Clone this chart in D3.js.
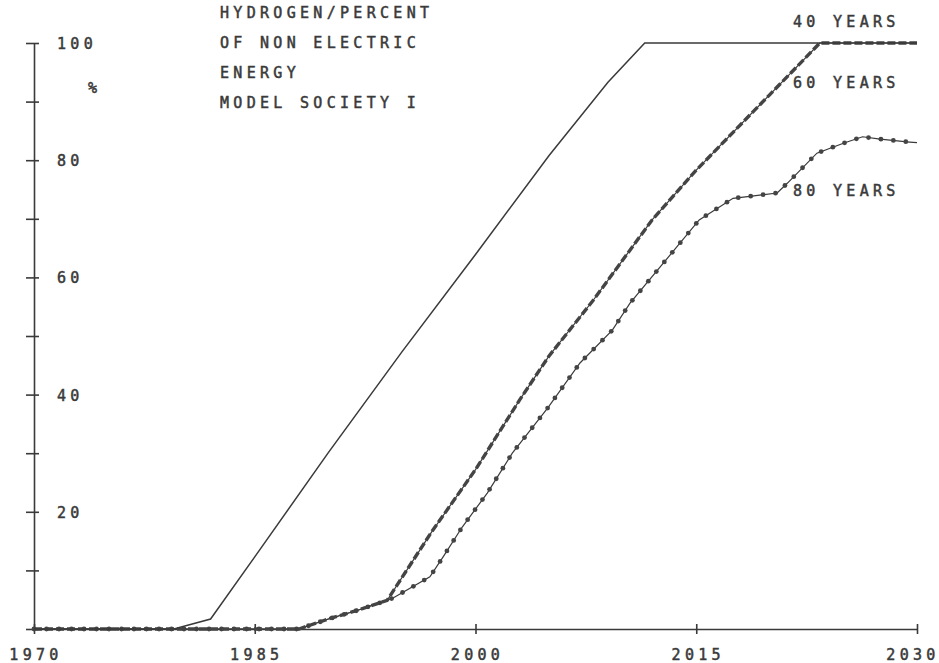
<!DOCTYPE html>
<html>
<head>
<meta charset="utf-8">
<script src="https://cdn.jsdelivr.net/npm/d3@7"></script>
<style>
  body { margin: 0; background: #fff; }
  svg text {
    font-family: "DejaVu Sans Mono", monospace;
    font-size: 15px;
    fill: #3a3a3a;
    stroke: #3a3a3a;
    stroke-width: 0.5px;
    letter-spacing: 4.3px;
  }
</style>
</head>
<body>
<div id="chart"></div>
<script>
// values
const titleLines = ["HYDROGEN/PERCENT", "OF NON ELECTRIC", "ENERGY", "MODEL SOCIETY I"];
const yearTicks = [1970, 1985, 2000, 2015, 2030];
const percentTicks = [0, 10, 20, 30, 40, 50, 60, 70, 80, 90, 100];
const percentLabels = [20, 40, 60, 80, 100];

const years40 = [1970, 1979.5, 1982, 1985, 1990, 1995, 2000, 2005, 2009, 2011.5, 2030];
const share40 = [0, 0, 1.7, 12.3, 30.1, 47.3, 63.9, 80.8, 93.3, 100, 100];

const years60 = [1970, 1988, 1990, 1992, 1994, 1997, 2000, 2003, 2005, 2008, 2012, 2015, 2020, 2023.4, 2030];
const share60 = [0, 0, 1.7, 3.2, 4.9, 16.5, 27.2, 39.1, 46.6, 56.1, 69.8, 78.3, 91.2, 100, 100];

const years80 = [1970, 1988, 1990, 1992, 1994, 1994.4, 1996.9, 1997.8, 1999.1, 2000.8, 2002.5, 2004.9,
                 2007.1, 2009.3, 2010.5, 2015.2, 2017.5, 2020.5, 2021.2, 2023.2, 2025, 2026.3, 2027.5, 2029.5, 2030];
const share80 = [0, 0, 1.7, 3.2, 4.9, 5.3, 8.9, 12.3, 17.4, 23.2, 30.0, 37.7,
                 45.4, 51.0, 55.6, 69.8, 73.5, 74.4, 76.1, 81.2, 82.9, 84.0, 83.6, 83.1, 83.0];

const seriesLabels = ["40 YEARS", "60 YEARS", "80 YEARS"];

const width = 939, height = 663;
const ink = "#3a3a3a";

const svg = d3.select("#chart")
    .append("svg")
    .attr("width", width)
    .attr("height", height);

const x = d3.scaleLinear().domain([1970, 2030]).range([34, 917]);
const y = d3.scaleLinear().domain([0, 100]).range([629, 43]);

// x axis, ticks cross the line
const xAxis = svg.append("g")
    .attr("transform", `translate(0,${y(0)})`)
    .call(d3.axisBottom(x).tickValues(yearTicks).tickSize(5).tickSizeOuter(0).tickFormat(""));
xAxis.selectAll(".tick line").attr("y1", -5).attr("y2", 5);

const yAxis = svg.append("g")
    .attr("transform", `translate(${x(1970)},0)`)
    .call(d3.axisLeft(y).tickValues(percentTicks).tickSize(8).tickSizeOuter(0).tickFormat(""));
yAxis.selectAll(".tick line").attr("x1", 5);

svg.selectAll(".domain, .tick line")
    .attr("stroke", ink)
    .attr("stroke-width", 1.6);

// year labels, the last one kept inside the frame
svg.selectAll(".xlab")
    .data(yearTicks)
    .enter()
    .append("text")
    .attr("x", d => Math.min(x(d) + 2, 913))
    .attr("y", 660)
    .attr("text-anchor", "middle")
    .text(d => d);

svg.selectAll(".ylab")
    .data(percentLabels)
    .enter()
    .append("text")
    .attr("x", 57)
    .attr("y", d => y(d) + 6)
    .text(d => d);

svg.append("text").attr("x", 88).attr("y", 93).text("%");

svg.selectAll(".title")
    .data(titleLines)
    .enter()
    .append("text")
    .attr("x", 220)
    .attr("y", (d, i) => 17.5 + i * 30)
    .text(d => d);

const line = d3.line().x(d => x(d[0])).y(d => y(d[1]));
const pts40 = years40.map((yr, i) => [yr, share40[i]]);
const pts60 = years60.map((yr, i) => [yr, share60[i]]);
const pts80 = years80.map((yr, i) => [yr, share80[i]]);

// 80 years: thin line with plotter dots
const path80 = svg.append("path")
    .attr("d", line(pts80))
    .attr("fill", "none")
    .attr("stroke", ink)
    .attr("stroke-width", 1.2);
const len80 = path80.node().getTotalLength();
const dots = [];
for (let s = 0; s <= len80; s += 12.5) dots.push(path80.node().getPointAtLength(s));
svg.selectAll(".dot80")
    .data(dots)
    .enter()
    .append("circle")
    .attr("cx", d => d.x)
    .attr("cy", d => d.y)
    .attr("r", 2.4)
    .attr("fill", "#444");

// 60 years: thin line with heavy dashes
svg.append("path")
    .attr("d", line(pts60))
    .attr("fill", "none")
    .attr("stroke", ink)
    .attr("stroke-width", 1.2);
svg.append("path")
    .attr("d", line(pts60))
    .attr("fill", "none")
    .attr("stroke", "#444")
    .attr("stroke-width", 3.4)
    .attr("stroke-dasharray", "8,3");

// 40 years: plain line
svg.append("path")
    .attr("d", line(pts40))
    .attr("fill", "none")
    .attr("stroke", ink)
    .attr("stroke-width", 1.5);

svg.selectAll(".slab")
    .data(seriesLabels)
    .enter()
    .append("text")
    .attr("x", 793)
    .attr("y", (d, i) => [27, 88, 196][i])
    .text(d => d);
</script>
</body>
</html>
